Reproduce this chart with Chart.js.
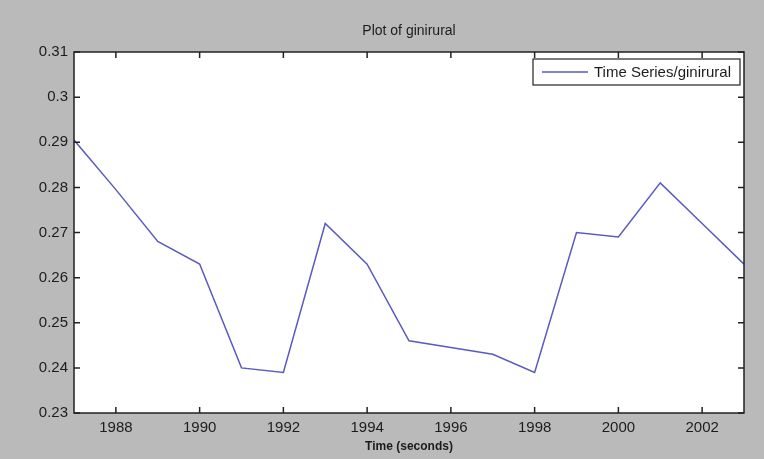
<!DOCTYPE html>
<html>
<head>
<meta charset="utf-8">
<script src="https://cdn.jsdelivr.net/npm/chart.js@4"></script>
<style>
  html, body { margin: 0; padding: 0; background: #bababa; }
  #wrap { width: 764px; height: 459px; position: relative; }
</style>
</head>
<body>
<div id="wrap"><canvas id="chartGini"></canvas></div>
<script>
// ---- data ----
const years = [1987, 1988, 1989, 1990, 1991, 1992, 1993, 1994, 1995, 1996, 1997, 1998, 1999, 2000, 2001, 2002, 2003];
const gini  = [0.2905, 0.2795, 0.268, 0.263, 0.240, 0.239, 0.272, 0.263, 0.246, 0.2445, 0.243, 0.239, 0.270, 0.269, 0.281, 0.272, 0.263];
const xTicks = [1988, 1990, 1992, 1994, 1996, 1998, 2000, 2002];
const yTicks = [0.23, 0.24, 0.25, 0.26, 0.27, 0.28, 0.29, 0.30, 0.31];
const seriesLabel = "Time Series/ginirural";
const titleText = "Plot of ginirural";

const C = { bg: "#bababa", ink: "#1c1c1c", line: "#5a5ac0", axis: "#222" };
const FONT = "'Liberation Sans', Arial, sans-serif";

// grey figure, white axes box, inward ticks on all four sides, title and legend
const matlabLook = {
  id: "matlabLook",
  beforeDraw(chart) {
    const { ctx, chartArea: a } = chart;
    ctx.save();
    ctx.fillStyle = C.bg;
    ctx.fillRect(0, 0, chart.width, chart.height);
    ctx.fillStyle = "#fff";
    ctx.fillRect(a.left, a.top, a.right - a.left, a.bottom - a.top);
    ctx.restore();
  },
  afterDraw(chart) {
    const { ctx, chartArea: a, scales } = chart;
    ctx.save();
    ctx.strokeStyle = C.axis;
    ctx.lineWidth = 1.5;
    ctx.strokeRect(a.left, a.top, a.right - a.left, a.bottom - a.top);
    const tl = 6;
    ctx.beginPath();
    scales.x.ticks.forEach((t) => {
      const px = scales.x.getPixelForValue(t.value);
      ctx.moveTo(px, a.bottom); ctx.lineTo(px, a.bottom - tl);
      ctx.moveTo(px, a.top); ctx.lineTo(px, a.top + tl);
    });
    scales.y.ticks.forEach((t) => {
      const py = scales.y.getPixelForValue(t.value);
      ctx.moveTo(a.left, py); ctx.lineTo(a.left + tl, py);
      ctx.moveTo(a.right, py); ctx.lineTo(a.right - tl, py);
    });
    ctx.stroke();

    // title
    ctx.fillStyle = C.ink;
    ctx.font = "14px " + FONT;
    ctx.textAlign = "center";
    ctx.textBaseline = "middle";
    ctx.fillText(titleText, (a.left + a.right) / 2, 31);

    // legend box
    const lx = 533, ly = 59, lw = 207, lh = 26;
    ctx.fillStyle = "#fff";
    ctx.fillRect(lx, ly, lw, lh);
    ctx.lineWidth = 1.2;
    ctx.strokeStyle = C.axis;
    ctx.strokeRect(lx, ly, lw, lh);
    ctx.strokeStyle = C.line;
    ctx.lineWidth = 1.5;
    ctx.beginPath();
    ctx.moveTo(542, ly + lh / 2); ctx.lineTo(588, ly + lh / 2);
    ctx.stroke();
    ctx.fillStyle = C.ink;
    ctx.font = "15px " + FONT;
    ctx.textAlign = "left";
    ctx.fillText(chart.data.datasets[0].label, 594, ly + lh / 2 + 1);
    ctx.restore();
  },
};

new Chart(document.getElementById("chartGini"), {
  type: "line",
  data: {
    datasets: [{
      label: seriesLabel,
      data: years.map((y, i) => ({ x: y, y: gini[i] })),
      borderColor: C.line,
      borderWidth: 1.5,
      pointRadius: 0,
      tension: 0,
      fill: false,
    }],
  },
  options: {
    responsive: true, maintainAspectRatio: false, animation: false,
    layout: { padding: { left: 0, right: 20, top: 52, bottom: 0 } },
    plugins: { legend: { display: false }, tooltip: { enabled: false }, title: { display: false } },
    scales: {
      x: {
        type: "linear", min: 1987, max: 2003,
        afterBuildTicks: (s) => { s.ticks = xTicks.map((v) => ({ value: v })); },
        afterFit: (s) => { s.height = 46; },
        grid: { drawOnChartArea: false, drawTicks: false },
        border: { display: false },
        ticks: { color: C.ink, font: { family: FONT, size: 15 }, padding: 6, maxRotation: 0, callback: (v) => String(v) },
        title: { display: true, text: "Time (seconds)", color: C.ink, font: { family: FONT, size: 12, weight: "bold" }, padding: { top: 0, bottom: 5 } },
      },
      y: {
        min: 0.23, max: 0.31,
        afterBuildTicks: (s) => { s.ticks = yTicks.map((v) => ({ value: v })); },
        afterFit: (s) => { s.width = 74; },
        grid: { drawOnChartArea: false, drawTicks: false },
        border: { display: false },
        ticks: { color: C.ink, font: { family: FONT, size: 15 }, padding: 6, callback: (v) => String(Number(v.toFixed(2))) },
      },
    },
  },
  plugins: [matlabLook],
});
</script>
</body>
</html>
